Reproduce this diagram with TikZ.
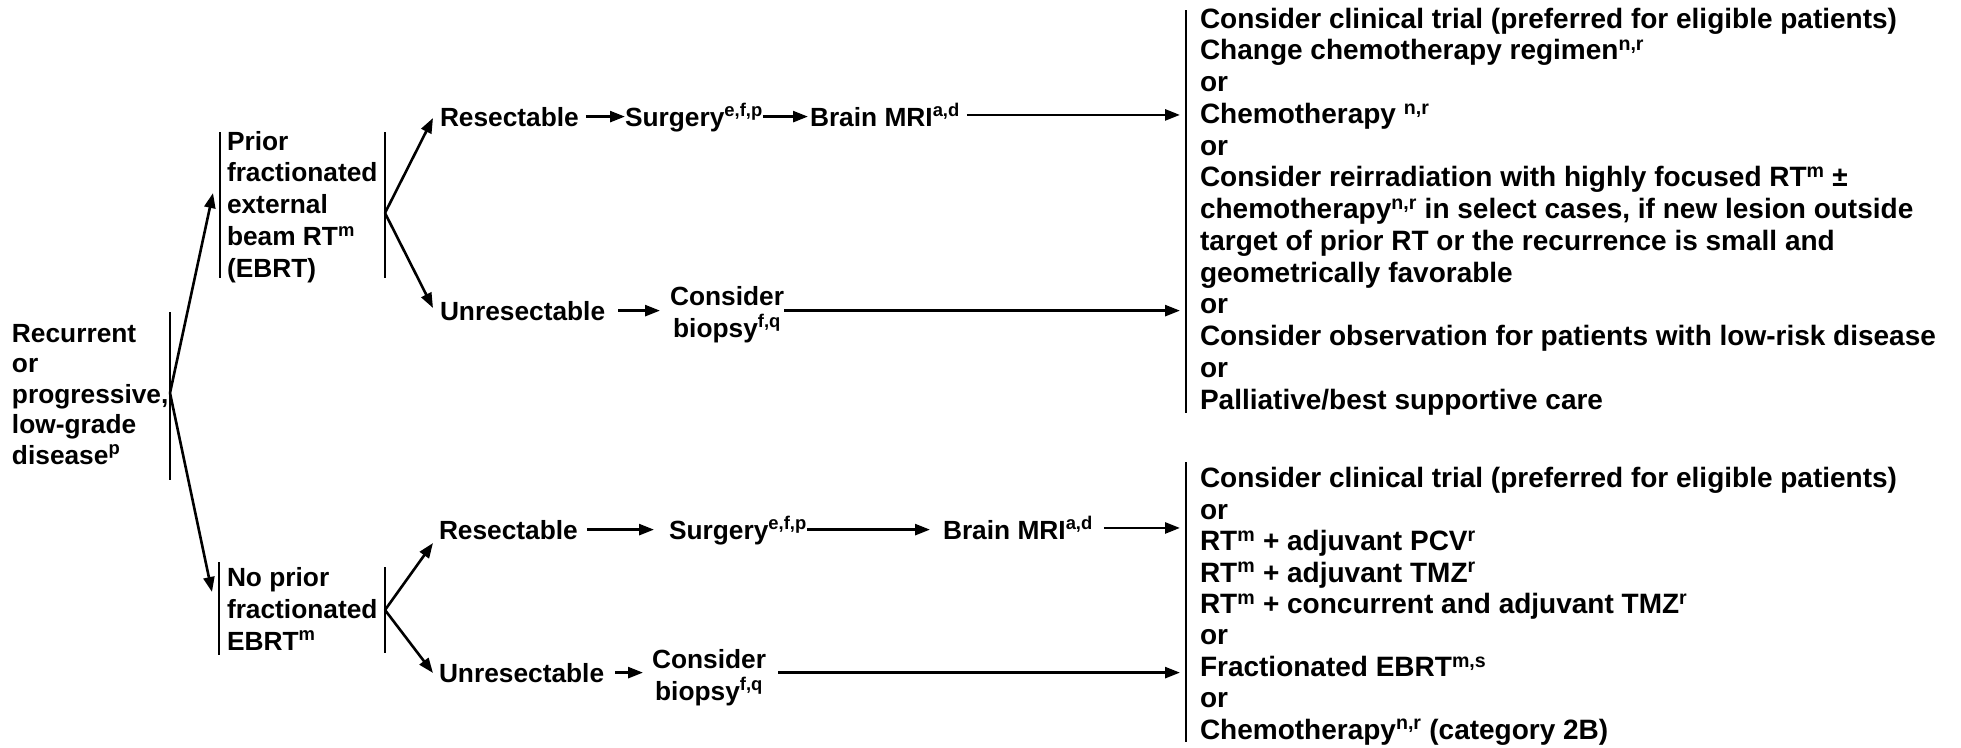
\documentclass[tikz,border=0pt]{standalone}
\usepackage{fontspec}
\setmainfont{Liberation Sans}
\usetikzlibrary{arrows.meta}
\newcommand\fsL{\fontsize{26.3}{30.5}\selectfont\bfseries}
\newcommand\fsM{\fontsize{26.3}{31.7}\selectfont\bfseries}
\newcommand\fsR{\fontsize{28}{31.75}\selectfont\bfseries}
\newcommand\fsRb{\fontsize{28}{31.4}\selectfont\bfseries}
\tikzset{
  txt/.style={inner sep=0pt, outer sep=0pt, align=left, anchor=base west, font=\fsM},
  ctxt/.style={inner sep=0pt, outer sep=0pt, align=center, anchor=base, font=\fsM},
  rtxt/.style={inner sep=0pt, outer sep=0pt, align=left, anchor=base west},
  arr/.style={line width=2.6pt, -{Triangle[length=15pt,width=11pt]}},
  bar/.style={line width=2.6pt},
}
\begin{document}
\begin{tikzpicture}[x=1pt,y=-1pt]
\useasboundingbox (0,0) rectangle (1961,747);

% left (base anchor = baseline of last line)
\node[txt, font=\fsL] (rec) at (12,464) {Recurrent\\or\\progressive,\\low-grade\\disease\textsuperscript{p}};
\coordinate (lbT) at (170,312); \coordinate (lbB) at (170,480);
\coordinate (lb) at (170,393);
\draw[bar] (lbT) -- (lbB);

% prior
\node[txt] (prior) at (227,277) {Prior\\fractionated\\external\\beam RT\textsuperscript{m}\\(EBRT)};
\coordinate (pLT) at (220,132); \coordinate (pLB) at (220,278);
\coordinate (pRT) at (385,132); \coordinate (pRB) at (385,278);
\coordinate (pb) at (385,213);
\coordinate (pin) at (213,193);
\draw[bar] (pLT) -- (pLB);
\draw[bar] (pRT) -- (pRB);

% no prior
\node[txt] (noprior) at (227,650) {No prior\\fractionated\\EBRT\textsuperscript{m}};
\coordinate (nLT) at (219,562); \coordinate (nLB) at (219,655);
\coordinate (nRT) at (385,567); \coordinate (nRB) at (385,653);
\coordinate (nb) at (385,610);
\coordinate (nin) at (212,592);
\draw[bar] (nLT) -- (nLB);
\draw[bar] (nRT) -- (nRB);

\draw[arr] (lb) -- (pin);
\draw[arr] (lb) -- (nin);

% top row
\node[txt] (res1) at (440,126) {Resectable};
\node[txt] (surg1) at (625,126) {Surgery\textsuperscript{e,f,p}};
\node[txt] (mri1) at (810,126) {Brain MRI\textsuperscript{a,d}};
\node[txt] (unres1) at (440,320) {Unresectable};
\node[ctxt] (bio1) at (727,337) {Consider\\biopsy\textsuperscript{f,q}};

\coordinate (r1in) at (433,118);
\coordinate (u1in) at (433,308);
\draw[arr] (pb) -- (r1in);
\draw[arr] (pb) -- (u1in);

% bottom row
\node[txt] (res2) at (439,539) {Resectable};
\node[txt] (surg2) at (669,539) {Surgery\textsuperscript{e,f,p}};
\node[txt] (mri2) at (943,539) {Brain MRI\textsuperscript{a,d}};
\node[txt] (unres2) at (439,682) {Unresectable};
\node[ctxt] (bio2) at (709,700) {Consider\\biopsy\textsuperscript{f,q}};

\coordinate (r2in) at (433,543);
\coordinate (u2in) at (433,673);
\draw[arr] (nb) -- (r2in);
\draw[arr] (nb) -- (u2in);

% right bars
\coordinate (rb1T) at (1186,10); \coordinate (rb1B) at (1186,413);
\coordinate (rb2T) at (1186,462); \coordinate (rb2B) at (1186,742);
\draw[bar] (rb1T) -- (rb1B);
\draw[bar] (rb2T) -- (rb2B);

% top row arrows
\draw[arr] ([xshift=7pt]res1.east) -- (res1.east -| surg1.west);
\draw[arr] (surg1.east |- res1.east) -- ([xshift=-2pt]res1.east -| mri1.west);
\draw[arr] ([xshift=7pt]mri1.east) -- ([xshift=-6pt]mri1.east -| rb1T);
\draw[arr] ([xshift=13pt]unres1.east) -- ([xshift=-10pt]unres1.east -| bio1.west);
\draw[arr] (bio1.east |- unres1.east) -- ([xshift=-6pt]unres1.east -| rb1T);

% bottom row arrows
\draw[arr] ([xshift=9pt]res2.east) -- ([xshift=-15pt]res2.east -| surg2.west);
\draw[arr] (surg2.east |- res2.east) -- ([xshift=-13pt]res2.east -| mri2.west);
\draw[arr] ([xshift=11pt]mri2.east) -- ([xshift=-6pt]mri2.east -| rb2T);
\draw[arr] ([xshift=11pt]unres2.east) -- ([xshift=-9pt]unres2.east -| bio2.west);
\draw[arr] ([xshift=12pt]bio2.east |- unres2.east) -- ([xshift=-6pt]unres2.east -| rb2T);

% right texts
\node[rtxt, font=\fsR] (opt1) at (1200,409) {Consider clinical trial (preferred for eligible patients)\\
Change chemotherapy regimen\textsuperscript{n,r}\\
or\\
Chemotherapy \textsuperscript{n,r}\\
or\\
Consider reirradiation with highly focused RT\textsuperscript{m} ±\\
chemotherapy\textsuperscript{n,r} in select cases, if new lesion outside\\
target of prior RT or the recurrence is small and\\
geometrically favorable\\
or\\
Consider observation for patients with low-risk disease\\
or\\
Palliative/best supportive care};

\node[rtxt, font=\fsRb] (opt2) at (1200,739) {Consider clinical trial (preferred for eligible patients)\\
or\\
RT\textsuperscript{m} + adjuvant PCV\textsuperscript{r}\\
RT\textsuperscript{m} + adjuvant TMZ\textsuperscript{r}\\
RT\textsuperscript{m} + concurrent and adjuvant TMZ\textsuperscript{r}\\
or\\
Fractionated EBRT\textsuperscript{m,s}\\
or\\
Chemotherapy\textsuperscript{n,r} (category 2B)};
\end{tikzpicture}
\end{document}
